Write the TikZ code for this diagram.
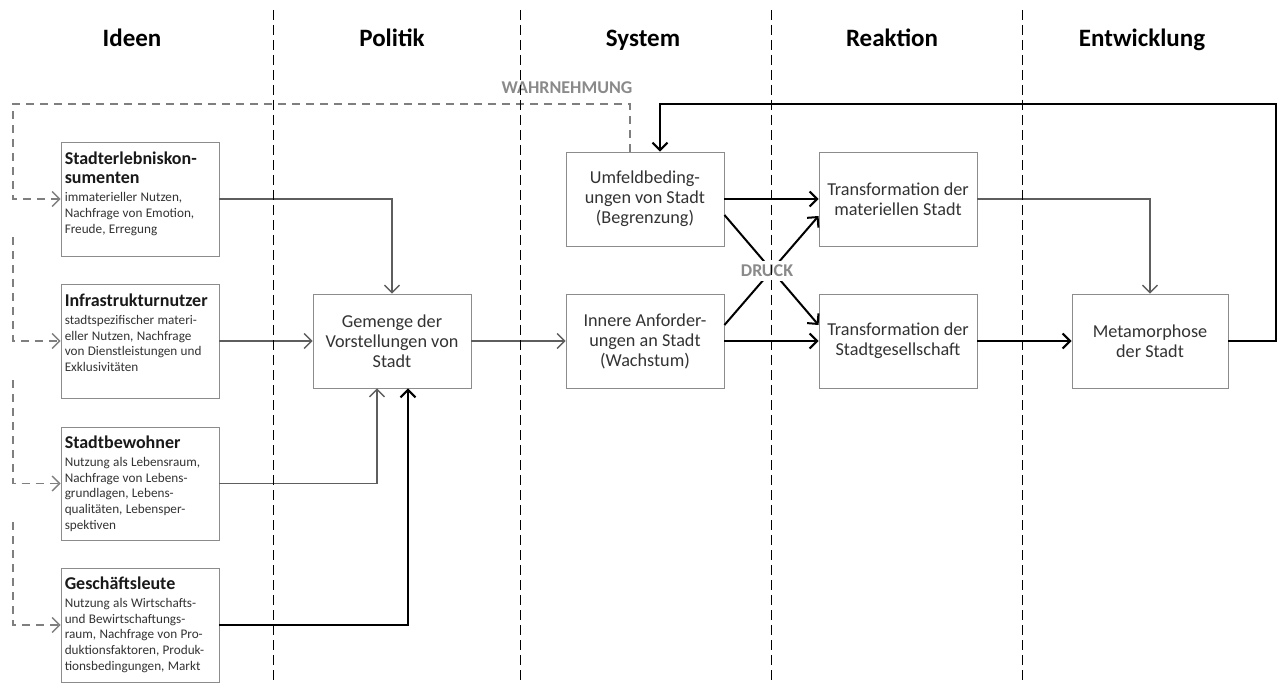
\documentclass[tikz,border=0pt]{standalone}
\usepackage{fontspec}
\setmainfont{Carlito}
\usetikzlibrary{arrows.meta,calc}
\definecolor{boxgray}{HTML}{8C8C8C}
\definecolor{txtgray}{HTML}{333333}
\definecolor{lngray}{HTML}{5E5E5E}
\definecolor{dgray}{HTML}{7F7F7F}
\definecolor{lblgray}{HTML}{8A8A8A}
\newcommand\hdrfont{\fontsize{25}{29}\selectfont\bfseries}
\newcommand\midfont{\fontsize{18.2}{20}\selectfont}
\newcommand\boxtitle{\fontsize{18}{19.3}\selectfont\bfseries\color{black!90}}
\newcommand\boxbody{\fontsize{13.2}{15.8}\selectfont}
\newcommand\lblfont{\fontsize{18}{20}\selectfont\bfseries}
\begin{document}
\begin{tikzpicture}[x=1pt,y=-1pt,
  bx/.style={draw=boxgray,line width=0.9pt,minimum width=158pt,inner sep=0pt,fill=white},
  lbox/.style={bx,minimum height=114pt},
  cbox/.style={bx,minimum height=94pt,align=center,text=txtgray,font=\midfont},
  ltext/.style={inner sep=0pt,text width=156pt,align=left,text=txtgray,anchor=north west},
  hdr/.style={font=\hdrfont,anchor=base},
  tipstyle/.style={-{Straight Barb[length=7.5pt,width=15pt]}},
  gline/.style={draw=lngray,line width=1.3pt,tipstyle},
  bline/.style={draw=black,line width=2pt,tipstyle},
  dfb/.style={draw=dgray,line width=1.3pt,dash pattern=on 8pt off 6pt,tipstyle},
  divider/.style={draw=black,line width=0.9pt,dash pattern=on 10pt off 5pt},
  lbl/.style={font=\lblfont,text=lblgray}
]
\useasboundingbox (0,0) rectangle (1279,684);

% headers
\node[hdr] (h1) at (132,47) {Ideen};
\node[hdr] (h2) at (392,47) {Politik};
\node[hdr] (h3) at (643,47) {System};
\node[hdr] (h4) at (892,47) {Reaktion};
\node[hdr] (h5) at (1142,47) {Entwicklung};

% left boxes
\node[lbox] (L1) at (140,199) {};
\node[lbox] (L2) at (140,341) {};
\node[lbox,minimum height=113pt] (L3) at (140,483.5) {};
\node[lbox] (L4) at (140,625) {};

\node[ltext] (L1t) at ($(L1.north west)+(4,10)$) {{\boxtitle Stadterlebniskon-\\sumenten\par}\vspace{2.2pt}{\boxbody immaterieller Nutzen,\\Nachfrage von Emotion,\\Freude, Erregung\par}};
\node[ltext] (L2t) at ($(L2.north west)+(4,10)$) {{\boxtitle Infrastrukturnutzer\par}\vspace{2.2pt}{\boxbody stadtspezifischer materi-\\eller Nutzen, Nachfrage\\von Dienstleistungen und\\Exklusivitäten\par}};
\node[ltext] (L3t) at ($(L3.north west)+(4,9)$) {{\boxtitle Stadtbewohner\par}\vspace{2.2pt}{\boxbody Nutzung als Lebensraum,\\Nachfrage von Lebens-\\grundlagen, Lebens-\\qualitäten, Lebensper-\\spektiven\par}};
\node[ltext] (L4t) at ($(L4.north west)+(4,9)$) {{\boxtitle Geschäftsleute\par}\vspace{2.2pt}{\boxbody Nutzung als Wirtschafts-\\und Bewirtschaftungs-\\raum, Nachfrage von Pro-\\duktionsfaktoren, Produk-\\tionsbedingungen, Markt\par}};

% centre boxes
\node[cbox] (G) at (392,341) {Gemenge der\\Vorstellungen von\\Stadt};
\node[cbox] (U) at (645,199) {Umfeldbeding-\\ungen von Stadt\\(Begrenzung)};
\node[cbox] (I) at (645,341) {Innere Anforder-\\ungen an Stadt\\(Wachstum)};
\node[cbox] (TM) at (898,199) {Transformation der\\materiellen Stadt};
\node[cbox] (TG) at (898,341) {Transformation der\\Stadtgesellschaft};
\node[cbox,minimum width=156pt] (M) at (1150,341) {Metamorphose\\der Stadt};

% connectors into Gemenge
\draw[gline] (L1.east) -| (G.north);
\draw[gline] (L2.east) -- (G.west);
\draw[gline] (L3.east) -| ($(G.south)+(-15,0)$);
\draw[bline] (L4.east) -| ($(G.south)+(16,0)$);
\draw[gline] (G.east) -- (I.west);

% system -> reaction
\draw[bline] (U.east) -- (TM.west);
\draw[bline] (I.east) -- (TG.west);
\draw[bline] ($(U.east)+(0,16)$) -- ($(TG.west)+(0,-16)$);
\draw[bline] ($(I.east)+(0,-16)$) -- ($(TM.west)+(0,17)$);
\node[lbl,fill=white,inner xsep=2pt,inner ysep=4pt] (druck) at (767,271) {DRUCK};

% reaction -> development
\draw[gline] (TM.east) -| (M.north);
\draw[bline] (TG.east) -- (M.west);

% feedback loop
\coordinate (fbR) at (1276,104);
\draw[bline] (M.east) -| (fbR) -| ($(U.north)+(15,0)$);

% perception (dashed)
\coordinate (dTL) at (13,104);
\draw[dfb] ($(U.north)+(-15,0)$) |- (dTL) |- (L1.west);
\coordinate (d2) at (13,237);
\draw[dfb] (d2) |- (L2.west);
\coordinate (d3) at (13,380);
\draw[dfb] (d3) |- (L3.west);
\coordinate (d4) at (13,522);
\draw[dfb] (d4) |- (L4.west);
\node[lbl,anchor=base] (wahr) at (567,94) {WAHRNEHMUNG};

% column dividers
\foreach \x in {273,520,771,1022} \draw[divider] (\x,10) -- (\x,684);
\end{tikzpicture}
\end{document}
